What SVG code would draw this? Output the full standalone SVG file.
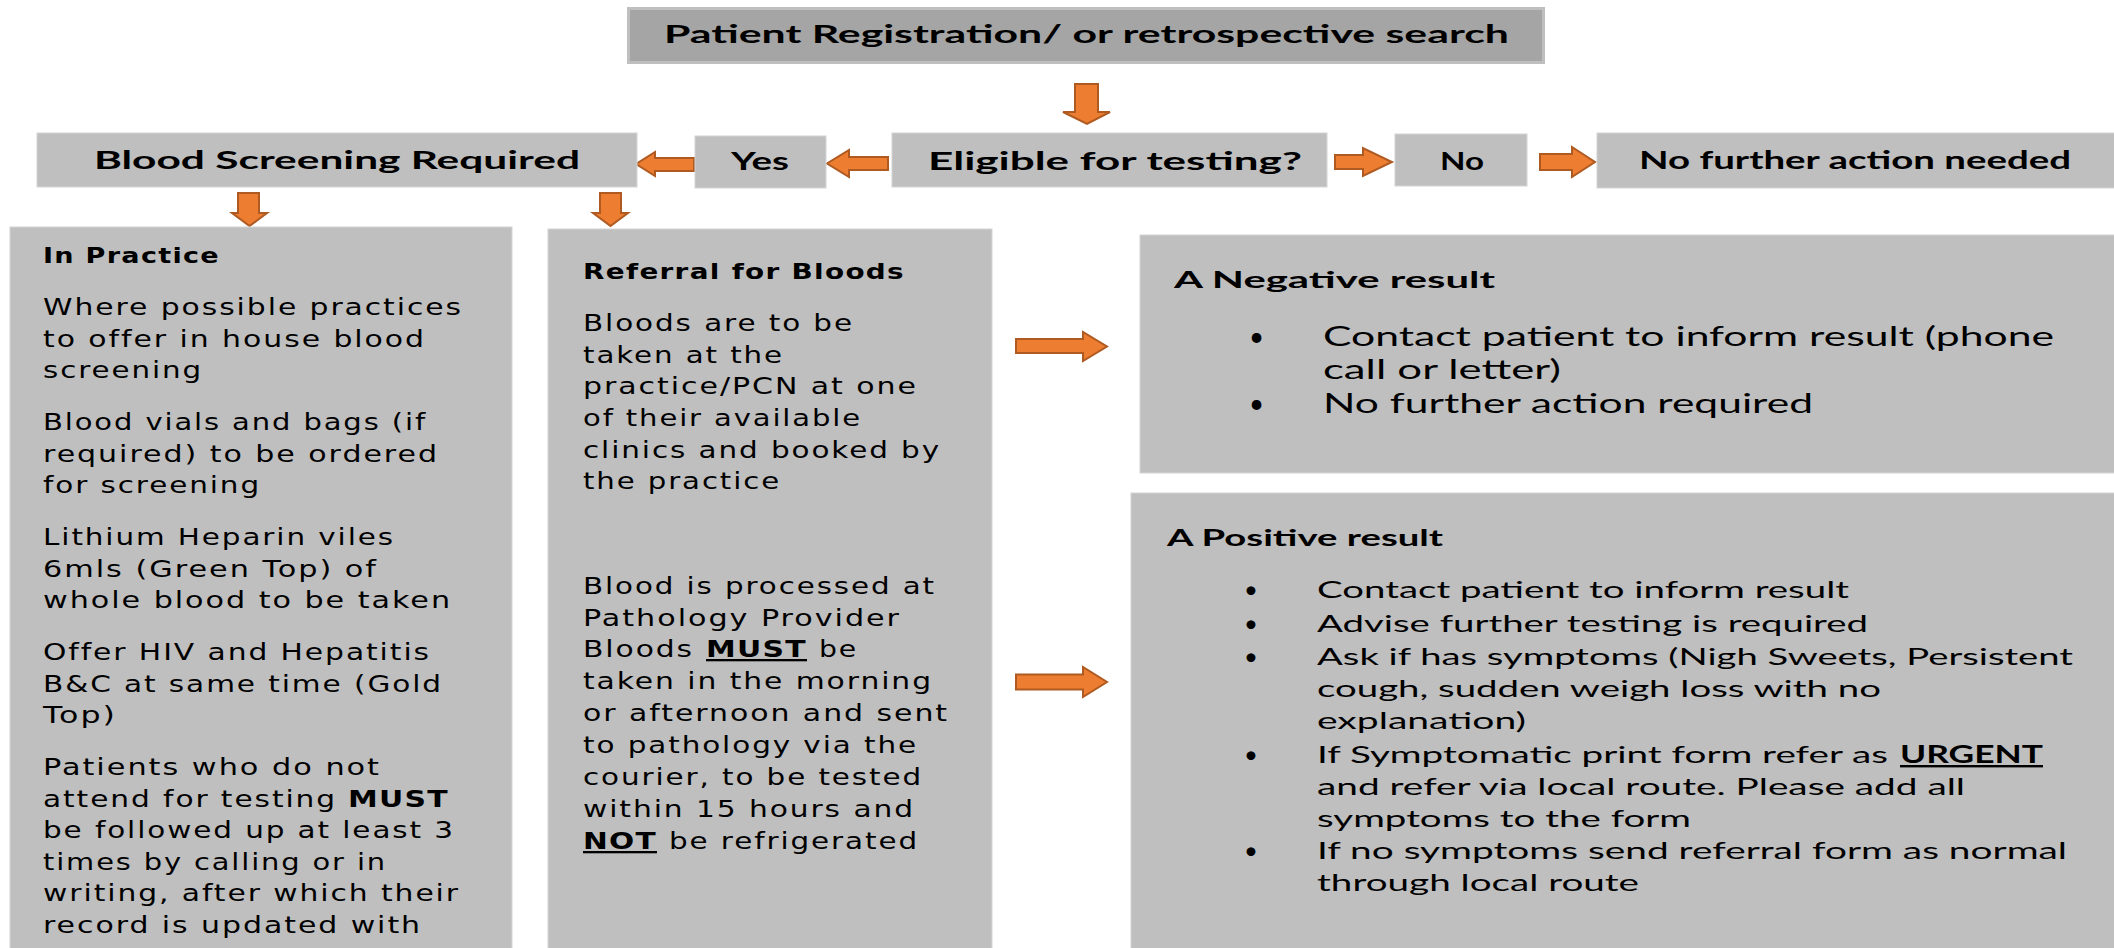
<svg xmlns="http://www.w3.org/2000/svg" width="2114" height="948" viewBox="0 0 2114 948">
<style>
.box{fill:#bfbfbf;stroke:#d4d4d4;stroke-width:1}
.boxd{fill:#a5a5a5;stroke:#bfbfbf;stroke-width:3}
.arr{fill:#ed7d31;stroke:#ae5a21;stroke-width:2;stroke-linejoin:miter}
.hd{font-family:Lato,"Liberation Sans",sans-serif;font-weight:700;font-size:24px;fill:#000}
.w{font-family:"DejaVu Sans",Verdana,sans-serif;font-size:23px;letter-spacing:1.5px;fill:#000}
.wb{font-family:"DejaVu Sans",Verdana,sans-serif;font-size:21px;font-weight:700;letter-spacing:1px;fill:#000}
.wbb{font-family:"DejaVu Sans",Verdana,sans-serif;font-size:23px;font-weight:700;letter-spacing:1px;fill:#000}
.r{font-family:Lato,"Liberation Sans",sans-serif;font-size:24px;fill:#000}
.rn{font-family:Lato,"Liberation Sans",sans-serif;font-size:26px;fill:#000}
.rt{font-family:Lato,"Liberation Sans",sans-serif;font-size:22px;font-weight:700;fill:#000}
.rb{font-family:Lato,"Liberation Sans",sans-serif;font-size:24px;font-weight:700;fill:#000}
.u{text-decoration:underline}
</style>

<g id="connectors">
<path class="arr" d="M1075,84 H1098 V112 H1110 L1087,124 L1063,112 H1075 Z"/>
<path class="arr" d="M888,157 V170 H849 V177 L827,163.5 L849,150 V157 Z"/>
<path class="arr" d="M694,158 V171 H655 V176 L636,164 L655,152 V158 Z"/>
<path class="arr" d="M1335,155 H1363 V148 L1392,162 L1363,176 V169 H1335 Z"/>
<path class="arr" d="M1540,154 H1572 V147 L1595,162 L1572,177 V170 H1540 Z"/>
<path class="arr" d="M238,193 H259 V213 H267 L249.5,226 L232,213 H238 Z"/>
<path class="arr" d="M600,193 H621 V213 H628 L610.5,226 L593,213 H600 Z"/>
<path class="arr" d="M1016,339 H1083 V332 L1107,346.5 L1083,361 V353 H1016 Z"/>
<path class="arr" d="M1016,674.5 H1083 V667 L1107,682 L1083,697 V689.5 H1016 Z"/>
</g>

<g id="registration">
<rect class="boxd" x="628.5" y="8.5" width="915" height="54"/>
<text class="hd" x="664" y="43" textLength="845" lengthAdjust="spacingAndGlyphs">Patient Registration/ or retrospective search</text>
</g>

<g id="eligible">
<rect class="box" x="892" y="133" width="435" height="54"/>
<text class="hd" x="928" y="170" textLength="374" lengthAdjust="spacingAndGlyphs">Eligible for testing?</text>
</g>

<g id="yes">
<rect class="box" x="695" y="136" width="131" height="52"/>
<text class="hd" x="731" y="170" textLength="58" lengthAdjust="spacingAndGlyphs">Yes</text>
</g>

<g id="no">
<rect class="box" x="1395" y="134" width="132" height="52"/>
<text class="hd" x="1440" y="170" textLength="44" lengthAdjust="spacingAndGlyphs">No</text>
</g>

<g id="no-further">
<rect class="box" x="1597" y="133" width="520" height="55"/>
<text class="hd" x="1639" y="169" textLength="432" lengthAdjust="spacingAndGlyphs">No further action needed</text>
</g>

<g id="blood-screening">
<rect class="box" x="37" y="133" width="600" height="54"/>
<text class="hd" x="94" y="169" textLength="486" lengthAdjust="spacingAndGlyphs">Blood Screening Required</text>
</g>

<g id="in-practice">
<rect class="box" x="10" y="227" width="502" height="725"/>
<text class="wb" x="43" y="263" textLength="177" lengthAdjust="spacingAndGlyphs">In Practice</text>
<text class="w" x="43" y="315" textLength="420" lengthAdjust="spacingAndGlyphs">Where possible practices</text>
<text class="w" x="43" y="346.5" textLength="383" lengthAdjust="spacingAndGlyphs">to offer in house blood</text>
<text class="w" x="43" y="378" textLength="160" lengthAdjust="spacingAndGlyphs">screening</text>
<text class="w" x="43" y="430" textLength="384" lengthAdjust="spacingAndGlyphs">Blood vials and bags (if</text>
<text class="w" x="43" y="461.5" textLength="396" lengthAdjust="spacingAndGlyphs">required) to be ordered</text>
<text class="w" x="43" y="493" textLength="218" lengthAdjust="spacingAndGlyphs">for screening</text>
<text class="w" x="43" y="545" textLength="352" lengthAdjust="spacingAndGlyphs">Lithium Heparin viles</text>
<text class="w" x="43" y="576.5" textLength="335" lengthAdjust="spacingAndGlyphs">6mls (Green Top) of</text>
<text class="w" x="43" y="608" textLength="409" lengthAdjust="spacingAndGlyphs">whole blood to be taken</text>
<text class="w" x="43" y="660" textLength="388" lengthAdjust="spacingAndGlyphs">Offer HIV and Hepatitis</text>
<text class="w" x="43" y="691.5" textLength="400" lengthAdjust="spacingAndGlyphs">B&amp;C at same time (Gold</text>
<text class="w" x="43" y="723" textLength="74" lengthAdjust="spacingAndGlyphs">Top)</text>
<text class="w" x="43" y="775" textLength="338" lengthAdjust="spacingAndGlyphs">Patients who do not</text>
<text class="w" x="43" y="806.5" textLength="294" lengthAdjust="spacingAndGlyphs">attend for testing</text>
<text class="wbb" x="348" y="806.5" textLength="101" lengthAdjust="spacingAndGlyphs">MUST</text>
<text class="w" x="43" y="838" textLength="412" lengthAdjust="spacingAndGlyphs">be followed up at least 3</text>
<text class="w" x="43" y="869.5" textLength="344" lengthAdjust="spacingAndGlyphs">times by calling or in</text>
<text class="w" x="43" y="901" textLength="417" lengthAdjust="spacingAndGlyphs">writing, after which their</text>
<text class="w" x="43" y="932.5" textLength="379" lengthAdjust="spacingAndGlyphs">record is updated with</text>
</g>

<g id="referral">
<rect class="box" x="548" y="229" width="444" height="723"/>
<text class="wb" x="583" y="279" textLength="322" lengthAdjust="spacingAndGlyphs">Referral for Bloods</text>
<text class="w" x="583" y="331" textLength="271" lengthAdjust="spacingAndGlyphs">Bloods are to be</text>
<text class="w" x="583" y="363" textLength="201" lengthAdjust="spacingAndGlyphs">taken at the</text>
<text class="w" x="583" y="394" textLength="335" lengthAdjust="spacingAndGlyphs">practice/PCN at one</text>
<text class="w" x="583" y="426" textLength="279" lengthAdjust="spacingAndGlyphs">of their available</text>
<text class="w" x="583" y="458" textLength="358" lengthAdjust="spacingAndGlyphs">clinics and booked by</text>
<text class="w" x="583" y="489" textLength="198" lengthAdjust="spacingAndGlyphs">the practice</text>
<text class="w" x="583" y="594" textLength="353" lengthAdjust="spacingAndGlyphs">Blood is processed at</text>
<text class="w" x="583" y="626" textLength="318" lengthAdjust="spacingAndGlyphs">Pathology Provider</text>
<text class="w" x="583" y="657" textLength="111" lengthAdjust="spacingAndGlyphs">Bloods</text>
<text class="wbb u" x="706" y="657" textLength="101" lengthAdjust="spacingAndGlyphs">MUST</text>
<text class="w" x="819" y="657" textLength="39" lengthAdjust="spacingAndGlyphs">be</text>
<text class="w" x="583" y="689" textLength="350" lengthAdjust="spacingAndGlyphs">taken in the morning</text>
<text class="w" x="583" y="721" textLength="366" lengthAdjust="spacingAndGlyphs">or afternoon and sent</text>
<text class="w" x="583" y="753" textLength="335" lengthAdjust="spacingAndGlyphs">to pathology via the</text>
<text class="w" x="583" y="785" textLength="340" lengthAdjust="spacingAndGlyphs">courier, to be tested</text>
<text class="w" x="583" y="817" textLength="332" lengthAdjust="spacingAndGlyphs">within 15 hours and</text>
<text class="wbb u" x="583" y="849" textLength="74" lengthAdjust="spacingAndGlyphs">NOT</text>
<text class="w" x="669" y="849" textLength="250" lengthAdjust="spacingAndGlyphs">be refrigerated</text>
</g>

<g id="negative">
<rect class="box" x="1140" y="235" width="978" height="238"/>
<text class="rt" x="1174" y="288" textLength="321" lengthAdjust="spacingAndGlyphs">A Negative result</text>
<text class="rn" x="1249" y="346">•</text>
<text class="rn" x="1323" y="346" textLength="731" lengthAdjust="spacingAndGlyphs">Contact patient to inform result (phone</text>
<text class="rn" x="1323" y="379" textLength="238" lengthAdjust="spacingAndGlyphs">call or letter)</text>
<text class="rn" x="1249" y="413">•</text>
<text class="rn" x="1323" y="413" textLength="490" lengthAdjust="spacingAndGlyphs">No further action required</text>
</g>

<g id="positive">
<rect class="box" x="1131" y="493" width="987" height="459"/>
<text class="rt" x="1167" y="546" textLength="276" lengthAdjust="spacingAndGlyphs">A Positive result</text>
<text class="r" x="1244" y="598">•</text>
<text class="r" x="1317" y="598" textLength="532" lengthAdjust="spacingAndGlyphs">Contact patient to inform result</text>
<text class="r" x="1244" y="632">•</text>
<text class="r" x="1317" y="632" textLength="551" lengthAdjust="spacingAndGlyphs">Advise further testing is required</text>
<text class="r" x="1244" y="665">•</text>
<text class="r" x="1317" y="665" textLength="756" lengthAdjust="spacingAndGlyphs">Ask if has symptoms (Nigh Sweets, Persistent</text>
<text class="r" x="1317" y="697" textLength="564" lengthAdjust="spacingAndGlyphs">cough, sudden weigh loss with no</text>
<text class="r" x="1317" y="729" textLength="209" lengthAdjust="spacingAndGlyphs">explanation)</text>
<text class="r" x="1244" y="763">•</text>
<text class="r" x="1317" y="763" textLength="571" lengthAdjust="spacingAndGlyphs">If Symptomatic print form refer as</text>
<text class="rb u" x="1900" y="763" textLength="143" lengthAdjust="spacingAndGlyphs">URGENT</text>
<text class="r" x="1317" y="795" textLength="648" lengthAdjust="spacingAndGlyphs">and refer via local route. Please add all</text>
<text class="r" x="1317" y="827" textLength="374" lengthAdjust="spacingAndGlyphs">symptoms to the form</text>
<text class="r" x="1244" y="859">•</text>
<text class="r" x="1317" y="859" textLength="750" lengthAdjust="spacingAndGlyphs">If no symptoms send referral form as normal</text>
<text class="r" x="1317" y="891" textLength="322" lengthAdjust="spacingAndGlyphs">through local route</text>
</g>
</svg>
